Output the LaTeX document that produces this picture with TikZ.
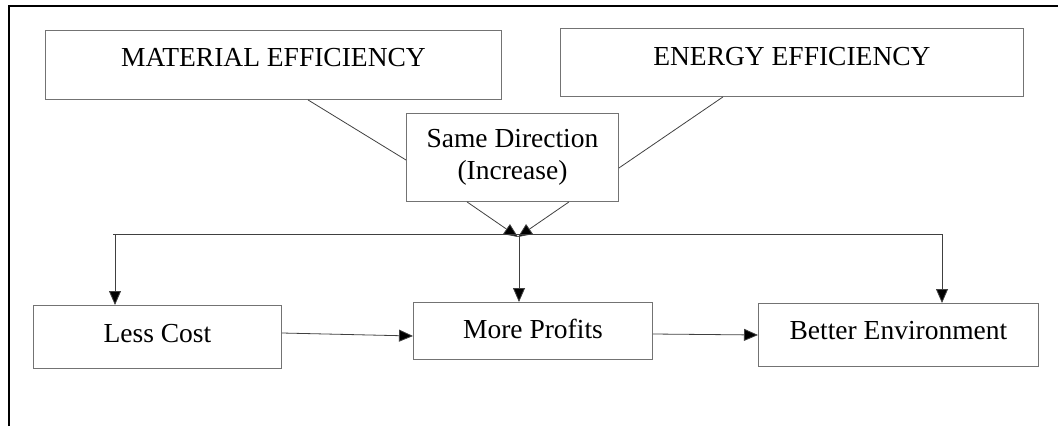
\documentclass[tikz,border=0pt]{standalone}
\usepackage{fontspec}
\setmainfont{Liberation Serif}
\usetikzlibrary{arrows.meta,calc}
\begin{document}
\begin{tikzpicture}[x=1pt,y=-1pt,
    box/.style={draw=black!55,line width=0.9pt,inner sep=0pt,anchor=north west,font=\fontsize{27.5}{32}\selectfont},
    con/.style={draw=black!75,line width=0.8pt},
    arr/.style={con,-{Triangle[length=14pt,width=12pt,fill=black]}}]
    \useasboundingbox (0,0) rectangle (1058,426);
    \draw[line width=2pt] (8.5,426) -- (8.5,5.5) -- (1058,5.5);
	 \node[box,minimum width=456pt,text height=36pt,text depth=33pt] (mat) at (45,30) {MATERIAL EFFICIENCY};
	 \node[box,minimum width=463pt,text height=37pt,text depth=31pt] (ene) at (560,28) {ENERGY EFFICIENCY};
	 \node[box,minimum width=212pt,minimum height=88pt,align=center] (same) at (406,113) {Same Direction\\(Increase)};
	 \node[box,minimum width=248pt,text height=37pt,text depth=26pt] (cost) at (33,305) {Less Cost};
	 \node[box,minimum width=239pt,text height=36pt,text depth=21pt] (prof) at (413,302) {More Profits};
	 \node[box,minimum width=280pt,text height=36pt,text depth=27pt] (env) at (758,303) {Better Environment};

	 \draw[con] ($(mat.south west)+(263,0)$) -- ($(same.north west)+(0,47)$);
	 \draw[con] ($(ene.south west)+(163,0)$) -- ($(same.north east)+(0,55)$);
	 \coordinate (j) at (518,237);
	 \draw[arr] ($(same.south west)+(61,0)$) -- (j);
	 \draw[arr] ($(same.south west)+(163,0)$) -- (j);
	 \coordinate (hl) at (113,234);
	 \coordinate (hr) at (943,234);
	 \draw[con] (hl) -- (hr);
	 \coordinate (a1) at (115,234);
	 \coordinate (a2) at (519,234);
	 \coordinate (a3) at (942,234);
	 \draw[arr] (a1) -- (a1 |- cost.north);
	 \draw[arr] (a2) -- (a2 |- prof.north);
	 \draw[arr] (a3) -- (a3 |- env.north);
	 \draw[arr] ($(cost.north east)+(0,28)$) -- ($(prof.north west)+(0,34)$);
	 \draw[arr] ($(prof.north east)+(0,32)$) -- ($(env.north west)+(0,32)$);
\end{tikzpicture}
\end{document}
